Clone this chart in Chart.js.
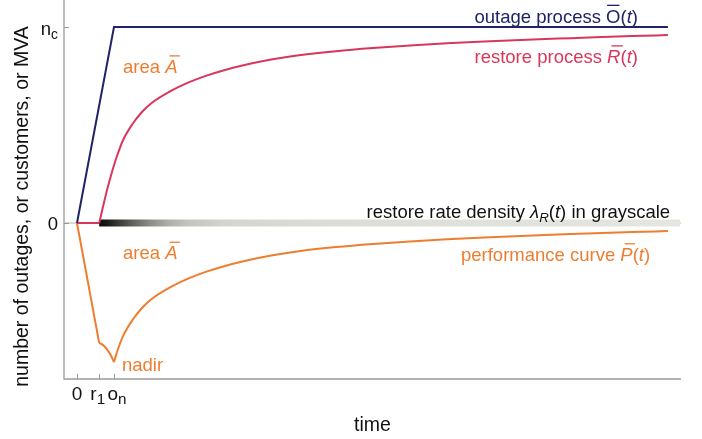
<!DOCTYPE html>
<html><head><meta charset="utf-8">
<script src="https://cdn.jsdelivr.net/npm/chart.js@4/dist/chart.umd.min.js"></script>
<style>html,body{margin:0;padding:0;background:#fff;}canvas{display:block;}</style>
</head><body>
<canvas id="c" width="702" height="439"></canvas>
<script>
// ---- data (time in units of o_n, values in units of n_c) ----
const r1 = 0.6, oN = 1.0, nC = 1.0;
const xTickValues = [0, 0.6, 1.0];
const yTickValues = [0, 1.0];
const outageT = [0, 1.0, 15.97];
const outageV = [0, 1.0, 1.0];
const restoreT = [0, 0.6, 0.7, 0.8, 0.9, 1.0, 1.1, 1.25, 1.5, 1.75, 2.0, 2.5, 3.0, 3.5, 4.0, 4.5, 5.0, 5.5, 6.0, 7.0, 8.0, 9.0, 10.0, 11.0, 12.0, 13.0, 14.0, 15.0, 15.97];
const restoreV = [0, 0, 0.08, 0.16, 0.23, 0.295, 0.352, 0.425, 0.505, 0.565, 0.61, 0.67, 0.716, 0.752, 0.781, 0.805, 0.825, 0.842, 0.856, 0.877, 0.893, 0.906, 0.917, 0.926, 0.934, 0.941, 0.948, 0.954, 0.959];
const perfT = [0, 0.6, 0.7, 0.8, 0.9, 1.0, 1.1, 1.25, 1.5, 1.75, 2.0, 2.5, 3.0, 3.5, 4.0, 4.5, 5.0, 5.5, 6.0, 7.0, 8.0, 9.0, 10.0, 11.0, 12.0, 13.0, 14.0, 15.0, 15.97];
const perfV = [0, -0.612, -0.622, -0.642, -0.67, -0.71, -0.648, -0.575, -0.495, -0.435, -0.39, -0.33, -0.284, -0.248, -0.219, -0.195, -0.175, -0.158, -0.144, -0.123, -0.107, -0.094, -0.083, -0.074, -0.066, -0.059, -0.052, -0.046, -0.041];
const densityT = [0.6, 0.8, 1.0, 1.5, 2.0, 2.5, 3.0, 4.0, 6.0, 10.0, 16.3];
const densityK = [0.95, 0.9, 0.82, 0.62, 0.44, 0.31, 0.23, 0.17, 0.14, 0.12, 0.1];

const NAVY = '#1f2466', RED = '#d8375b', ORANGE = '#ef7d2f', AXIS = '#9a9a9a';
const FONT = '"Liberation Sans", Arial, sans-serif';

const pts = (T, V, a, b) => T.slice(a, b).map((t, i) => ({x: t, y: V[a + i]}));
const nadirIdx = perfV.indexOf(Math.min(...perfV));

function bandColor(ctx) {
  const chart = ctx.chart; const {chartArea, scales} = chart;
  if (!chartArea) return '#000';
  const x0 = scales.x.getPixelForValue(densityT[0]);
  const x1 = scales.x.getPixelForValue(densityT[densityT.length - 1]);
  const g = chart.ctx.createLinearGradient(x0, 0, x1, 0);
  densityT.forEach((t, i) => {
    const c = Math.round(255 * (1 - densityK[i]));
    g.addColorStop((scales.x.getPixelForValue(t) - x0) / (x1 - x0), `rgb(${c},${c},${c - 6})`);
  });
  return g;
}

const lineDs = (data, color, mode) => ({
  data, borderColor: color, borderWidth: 2, pointRadius: 0, fill: false,
  tension: mode ? 0.4 : 0, cubicInterpolationMode: mode || 'default', order: 0
});

const labels = [
  {t: 15.16, v: 1.023, align: 'right', color: NAVY, segs: [{t: 'outage process '}, {t: 'O', over: true}, {t: '('}, {t: 't', it: true}, {t: ')'}]},
  {t: 15.16, v: 0.816, align: 'right', color: RED, segs: [{t: 'restore process '}, {t: 'R', it: true, over: true}, {t: '('}, {t: 't', it: true}, {t: ')'}]},
  {t: 1.243, v: 0.765, align: 'left', color: ORANGE, segs: [{t: 'area '}, {t: 'A', it: true, over: true}]},
  {t: 16.03, v: 0.028, align: 'right', color: '#111', segs: [{t: 'restore rate density '}, {t: 'λ', it: true}, {t: 'R', it: true, sub: true}, {t: '('}, {t: 't', it: true}, {t: ') in grayscale'}]},
  {t: 1.243, v: -0.186, align: 'left', color: ORANGE, segs: [{t: 'area '}, {t: 'A', it: true, over: true}]},
  {t: 15.49, v: -0.194, align: 'right', color: ORANGE, segs: [{t: 'performance curve '}, {t: 'P', it: true, over: true}, {t: '('}, {t: 't', it: true}, {t: ')'}]},
  {t: 1.216, v: -0.755, align: 'left', color: ORANGE, segs: [{t: 'nadir'}]}
];
const xTickSegs = [[{t: '0'}], [{t: 'r'}, {t: '1', sub: true}], [{t: 'o'}, {t: 'n', sub: true}]];
const xTickShift = [0, -1.5, 3];
const yTickSegs = [[{t: '0'}], [{t: 'n'}, {t: 'c', sub: true}]];

function drawRich(ctx, segs, x, y, align, color, size, subScale) {
  const ss = subScale || 0.72;
  const items = segs.map(s => {
    const sz = s.sub ? size * ss : size;
    const font = `${s.it ? 'italic ' : ''}${sz}px ${FONT}`;
    ctx.font = font;
    return {s, font, w: ctx.measureText(s.t).width};
  });
  const total = items.reduce((a, b) => a + b.w, 0);
  let cx = align === 'right' ? x - total : align === 'center' ? x - total / 2 : x;
  ctx.fillStyle = color; ctx.strokeStyle = color; ctx.textAlign = 'left'; ctx.textBaseline = 'alphabetic';
  items.forEach(it => {
    ctx.font = it.font;
    const dy = it.s.sub ? size * 0.22 : 0;
    ctx.fillText(it.s.t, cx, y + dy);
    if (it.s.over) {
      ctx.lineWidth = 1.3;
      const sh = it.s.it ? size * 0.18 : 0;
      ctx.beginPath();
      ctx.moveTo(cx + 1 + sh, y - size * 0.93);
      ctx.lineTo(cx + it.w + sh - 1, y - size * 0.93);
      ctx.stroke();
    }
    cx += it.w;
  });
}

const decor = {
  id: 'decor',
  beforeDatasetsDraw(chart) {
    const {ctx, chartArea: a, scales: {x, y}} = chart;
    ctx.save();
    ctx.strokeStyle = AXIS; ctx.lineWidth = 1.3;
    ctx.beginPath();
    ctx.moveTo(a.left, a.top); ctx.lineTo(a.left, a.bottom); ctx.lineTo(a.right, a.bottom);
    ctx.stroke();
    ctx.strokeStyle = '#b4b4b4'; ctx.lineWidth = 1.2;
    ctx.beginPath(); ctx.moveTo(a.left, y.getPixelForValue(0)); ctx.lineTo(a.right, y.getPixelForValue(0)); ctx.stroke();
    ctx.strokeStyle = AXIS; ctx.lineWidth = 1;
    xTickValues.forEach(t => { const px = Math.round(x.getPixelForValue(t)) + 0.5; ctx.beginPath(); ctx.moveTo(px, a.bottom); ctx.lineTo(px, a.bottom - 5); ctx.stroke(); });
    yTickValues.forEach(v => { const py = Math.round(y.getPixelForValue(v)) + 0.5; ctx.beginPath(); ctx.moveTo(a.left, py); ctx.lineTo(a.left + 5, py); ctx.stroke(); });
    ctx.restore();
  },
  afterDatasetsDraw(chart) {
    const {ctx, chartArea: a, scales: {x, y}} = chart;
    ctx.save();
    labels.forEach(l => drawRich(ctx, l.segs, x.getPixelForValue(l.t), y.getPixelForValue(l.v), l.align, l.color, 18.5));
    xTickValues.forEach((t, i) => drawRich(ctx, xTickSegs[i], x.getPixelForValue(t) + xTickShift[i], a.bottom + 21, 'center', '#111', 19, 0.8));
    yTickValues.forEach((v, i) => drawRich(ctx, yTickSegs[i], a.left - 6, y.getPixelForValue(v) + (i ? 8 : 6.5), 'right', '#111', 18.5, 0.75));
    drawRich(ctx, [{t: 'time'}], (a.left + a.right) / 2, a.bottom + 52, 'center', '#111', 19.5);
    ctx.translate(28, (a.top + a.bottom) / 2 + 17);
    ctx.rotate(-Math.PI / 2);
    drawRich(ctx, [{t: 'number of outages, or customers, or MVA'}], 0, 0, 'center', '#111', 19.5);
    ctx.restore();
  }
};

new Chart(document.getElementById('c'), {
  type: 'line',
  data: {
    datasets: [
      lineDs(pts(outageT, outageV, 0), NAVY),
      lineDs(pts(restoreT, restoreV, 0, 2), RED),
      lineDs(pts(restoreT, restoreV, 1), RED, 'monotone'),
      lineDs(pts(perfT, perfV, 0, 2), ORANGE),
      lineDs(pts(perfT, perfV, 1, nadirIdx + 1), ORANGE, 'monotone'),
      lineDs(pts(perfT, perfV, nadirIdx), ORANGE, 'monotone'),
      {data: [{x: densityT[0], y: 0}, {x: densityT[densityT.length - 1], y: 0}], borderColor: bandColor,
       borderWidth: 7, borderCapStyle: 'butt', pointRadius: 0, tension: 0, order: 5}
    ]
  },
  options: {
    responsive: false, animation: false, devicePixelRatio: 1,
    layout: {padding: {left: 64, right: 21, top: 0, bottom: 60}},
    plugins: {legend: {display: false}, tooltip: {enabled: false}},
    scales: {
      x: {type: 'linear', min: -0.351, max: 16.324, display: false},
      y: {type: 'linear', min: -0.796, max: 1.138, display: false}
    }
  },
  plugins: [decor]
});
</script>
</body></html>
